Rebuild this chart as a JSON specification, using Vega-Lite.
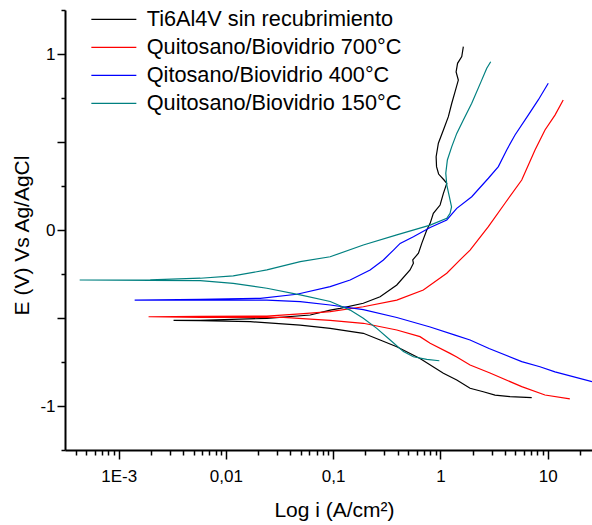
{
  "$schema": "https://vega.github.io/schema/vega-lite/v6.json",
  "width": 527,
  "height": 440,
  "autosize": {"type": "none"},
  "padding": {"left": 65, "top": 10, "right": 0, "bottom": 75},
  "background": "white",
  "config": {
    "view": {"stroke": null},
    "font": "Liberation Sans",
    "axis": {"grid": false, "domainColor": "black", "domainWidth": 2, "tickColor": "black", "tickWidth": 1.5, "labelColor": "black", "titleColor": "black", "labelFont": "Liberation Sans", "titleFont": "Liberation Sans", "labelFontSize": 17, "titleFontSize": 21, "titleFontWeight": "normal", "labelOverlap": false, "labelFlush": false}
  },
  "data": {"values": [
    {"s":"Ti6Al4V sin recubrimiento","o":1,"i":7.10,"E":-0.952},
    {"s":"Ti6Al4V sin recubrimiento","o":2,"i":4.45,"E":-0.947},
    {"s":"Ti6Al4V sin recubrimiento","o":3,"i":3.23,"E":-0.938},
    {"s":"Ti6Al4V sin recubrimiento","o":4,"i":2.51,"E":-0.919},
    {"s":"Ti6Al4V sin recubrimiento","o":5,"i":1.89,"E":-0.899},
    {"s":"Ti6Al4V sin recubrimiento","o":6,"i":1.42,"E":-0.852},
    {"s":"Ti6Al4V sin recubrimiento","o":7,"i":1.066,"E":-0.814},
    {"s":"Ti6Al4V sin recubrimiento","o":8,"i":0.645,"E":-0.730},
    {"s":"Ti6Al4V sin recubrimiento","o":9,"i":0.392,"E":-0.663},
    {"s":"Ti6Al4V sin recubrimiento","o":10,"i":0.274,"E":-0.625},
    {"s":"Ti6Al4V sin recubrimiento","o":11,"i":0.191,"E":-0.587},
    {"s":"Ti6Al4V sin recubrimiento","o":12,"i":0.116,"E":-0.568},
    {"s":"Ti6Al4V sin recubrimiento","o":13,"i":0.0938,"E":-0.559},
    {"s":"Ti6Al4V sin recubrimiento","o":14,"i":0.0493,"E":-0.540},
    {"s":"Ti6Al4V sin recubrimiento","o":15,"i":0.01687,"E":-0.521},
    {"s":"Ti6Al4V sin recubrimiento","o":16,"i":0.00577,"E":-0.515},
    {"s":"Ti6Al4V sin recubrimiento","o":17,"i":0.00325,"E":-0.513},
    {"s":"Ti6Al4V sin recubrimiento","o":18,"i":0.00577,"E":-0.513},
    {"s":"Ti6Al4V sin recubrimiento","o":19,"i":0.0241,"E":-0.502},
    {"s":"Ti6Al4V sin recubrimiento","o":20,"i":0.0611,"E":-0.483},
    {"s":"Ti6Al4V sin recubrimiento","o":21,"i":0.0938,"E":-0.455},
    {"s":"Ti6Al4V sin recubrimiento","o":22,"i":0.116,"E":-0.445},
    {"s":"Ti6Al4V sin recubrimiento","o":23,"i":0.191,"E":-0.416},
    {"s":"Ti6Al4V sin recubrimiento","o":24,"i":0.274,"E":-0.379},
    {"s":"Ti6Al4V sin recubrimiento","o":25,"i":0.392,"E":-0.3125},
    {"s":"Ti6Al4V sin recubrimiento","o":26,"i":0.521,"E":-0.227},
    {"s":"Ti6Al4V sin recubrimiento","o":27,"i":0.560,"E":-0.189},
    {"s":"Ti6Al4V sin recubrimiento","o":28,"i":0.552,"E":-0.170},
    {"s":"Ti6Al4V sin recubrimiento","o":29,"i":0.624,"E":-0.132},
    {"s":"Ti6Al4V sin recubrimiento","o":30,"i":0.670,"E":-0.076},
    {"s":"Ti6Al4V sin recubrimiento","o":31,"i":0.746,"E":0.000},
    {"s":"Ti6Al4V sin recubrimiento","o":32,"i":0.802,"E":0.038},
    {"s":"Ti6Al4V sin recubrimiento","o":33,"i":0.859,"E":0.095},
    {"s":"Ti6Al4V sin recubrimiento","o":34,"i":0.993,"E":0.142},
    {"s":"Ti6Al4V sin recubrimiento","o":35,"i":1.066,"E":0.2085},
    {"s":"Ti6Al4V sin recubrimiento","o":36,"i":1.146,"E":0.265},
    {"s":"Ti6Al4V sin recubrimiento","o":37,"i":1.081,"E":0.284},
    {"s":"Ti6Al4V sin recubrimiento","o":38,"i":0.962,"E":0.318},
    {"s":"Ti6Al4V sin recubrimiento","o":39,"i":0.920,"E":0.360},
    {"s":"Ti6Al4V sin recubrimiento","o":40,"i":0.912,"E":0.4165},
    {"s":"Ti6Al4V sin recubrimiento","o":41,"i":0.957,"E":0.493},
    {"s":"Ti6Al4V sin recubrimiento","o":42,"i":1.066,"E":0.568},
    {"s":"Ti6Al4V sin recubrimiento","o":43,"i":1.186,"E":0.644},
    {"s":"Ti6Al4V sin recubrimiento","o":44,"i":1.276,"E":0.720},
    {"s":"Ti6Al4V sin recubrimiento","o":45,"i":1.370,"E":0.786},
    {"s":"Ti6Al4V sin recubrimiento","o":46,"i":1.469,"E":0.852},
    {"s":"Ti6Al4V sin recubrimiento","o":47,"i":1.400,"E":0.898},
    {"s":"Ti6Al4V sin recubrimiento","o":48,"i":1.445,"E":0.947},
    {"s":"Ti6Al4V sin recubrimiento","o":49,"i":1.581,"E":0.985},
    {"s":"Ti6Al4V sin recubrimiento","o":50,"i":1.636,"E":1.042},

    {"s":"Quitosano/Biovidrio 700°C","o":1,"i":16.1,"E":-0.960},
    {"s":"Quitosano/Biovidrio 700°C","o":2,"i":9.44,"E":-0.9375},
    {"s":"Quitosano/Biovidrio 700°C","o":3,"i":5.73,"E":-0.890},
    {"s":"Quitosano/Biovidrio 700°C","o":4,"i":2.90,"E":-0.8125},
    {"s":"Quitosano/Biovidrio 700°C","o":5,"i":1.89,"E":-0.767},
    {"s":"Quitosano/Biovidrio 700°C","o":6,"i":1.42,"E":-0.722},
    {"s":"Quitosano/Biovidrio 700°C","o":7,"i":1.23,"E":-0.701},
    {"s":"Quitosano/Biovidrio 700°C","o":8,"i":0.802,"E":-0.644},
    {"s":"Quitosano/Biovidrio 700°C","o":9,"i":0.645,"E":-0.606},
    {"s":"Quitosano/Biovidrio 700°C","o":10,"i":0.392,"E":-0.568},
    {"s":"Quitosano/Biovidrio 700°C","o":11,"i":0.191,"E":-0.530},
    {"s":"Quitosano/Biovidrio 700°C","o":12,"i":0.0938,"E":-0.514},
    {"s":"Quitosano/Biovidrio 700°C","o":13,"i":0.0611,"E":-0.506},
    {"s":"Quitosano/Biovidrio 700°C","o":14,"i":0.0344,"E":-0.496},
    {"s":"Quitosano/Biovidrio 700°C","o":15,"i":0.00577,"E":-0.496},
    {"s":"Quitosano/Biovidrio 700°C","o":16,"i":0.00190,"E":-0.493},
    {"s":"Quitosano/Biovidrio 700°C","o":17,"i":0.00577,"E":-0.490},
    {"s":"Quitosano/Biovidrio 700°C","o":18,"i":0.0241,"E":-0.489},
    {"s":"Quitosano/Biovidrio 700°C","o":19,"i":0.0493,"E":-0.477},
    {"s":"Quitosano/Biovidrio 700°C","o":20,"i":0.0938,"E":-0.464},
    {"s":"Quitosano/Biovidrio 700°C","o":21,"i":0.191,"E":-0.436},
    {"s":"Quitosano/Biovidrio 700°C","o":22,"i":0.392,"E":-0.398},
    {"s":"Quitosano/Biovidrio 700°C","o":23,"i":0.693,"E":-0.341},
    {"s":"Quitosano/Biovidrio 700°C","o":24,"i":1.146,"E":-0.246},
    {"s":"Quitosano/Biovidrio 700°C","o":25,"i":1.524,"E":-0.170},
    {"s":"Quitosano/Biovidrio 700°C","o":26,"i":1.89,"E":-0.114},
    {"s":"Quitosano/Biovidrio 700°C","o":27,"i":2.80,"E":0.019},
    {"s":"Quitosano/Biovidrio 700°C","o":28,"i":4.00,"E":0.152},
    {"s":"Quitosano/Biovidrio 700°C","o":29,"i":5.73,"E":0.284},
    {"s":"Quitosano/Biovidrio 700°C","o":30,"i":7.62,"E":0.455},
    {"s":"Quitosano/Biovidrio 700°C","o":31,"i":9.44,"E":0.568},
    {"s":"Quitosano/Biovidrio 700°C","o":32,"i":11.7,"E":0.653},
    {"s":"Quitosano/Biovidrio 700°C","o":33,"i":13.96,"E":0.739},

    {"s":"Qitosano/Biovidrio 400°C","o":1,"i":25.9,"E":-0.862},
    {"s":"Qitosano/Biovidrio 400°C","o":2,"i":11.7,"E":-0.806},
    {"s":"Qitosano/Biovidrio 400°C","o":3,"i":8.47,"E":-0.777},
    {"s":"Qitosano/Biovidrio 400°C","o":4,"i":5.73,"E":-0.748},
    {"s":"Qitosano/Biovidrio 400°C","o":5,"i":2.84,"E":-0.673},
    {"s":"Qitosano/Biovidrio 400°C","o":6,"i":1.89,"E":-0.625},
    {"s":"Qitosano/Biovidrio 400°C","o":7,"i":1.37,"E":-0.597},
    {"s":"Qitosano/Biovidrio 400°C","o":8,"i":0.802,"E":-0.551},
    {"s":"Qitosano/Biovidrio 400°C","o":9,"i":0.392,"E":-0.497},
    {"s":"Qitosano/Biovidrio 400°C","o":10,"i":0.191,"E":-0.452},
    {"s":"Qitosano/Biovidrio 400°C","o":11,"i":0.0938,"E":-0.426},
    {"s":"Qitosano/Biovidrio 400°C","o":12,"i":0.0493,"E":-0.407},
    {"s":"Qitosano/Biovidrio 400°C","o":13,"i":0.0241,"E":-0.398},
    {"s":"Qitosano/Biovidrio 400°C","o":14,"i":0.00577,"E":-0.398},
    {"s":"Qitosano/Biovidrio 400°C","o":15,"i":0.00141,"E":-0.398},
    {"s":"Qitosano/Biovidrio 400°C","o":16,"i":0.00577,"E":-0.394},
    {"s":"Qitosano/Biovidrio 400°C","o":17,"i":0.0209,"E":-0.388},
    {"s":"Qitosano/Biovidrio 400°C","o":18,"i":0.0459,"E":-0.365},
    {"s":"Qitosano/Biovidrio 400°C","o":19,"i":0.0938,"E":-0.322},
    {"s":"Qitosano/Biovidrio 400°C","o":20,"i":0.144,"E":-0.284},
    {"s":"Qitosano/Biovidrio 400°C","o":21,"i":0.221,"E":-0.227},
    {"s":"Qitosano/Biovidrio 400°C","o":22,"i":0.294,"E":-0.170},
    {"s":"Qitosano/Biovidrio 400°C","o":23,"i":0.365,"E":-0.114},
    {"s":"Qitosano/Biovidrio 400°C","o":24,"i":0.421,"E":-0.076},
    {"s":"Qitosano/Biovidrio 400°C","o":25,"i":0.560,"E":-0.038},
    {"s":"Qitosano/Biovidrio 400°C","o":26,"i":0.802,"E":0.014},
    {"s":"Qitosano/Biovidrio 400°C","o":27,"i":1.146,"E":0.057},
    {"s":"Qitosano/Biovidrio 400°C","o":28,"i":1.42,"E":0.123},
    {"s":"Qitosano/Biovidrio 400°C","o":29,"i":1.959,"E":0.189},
    {"s":"Qitosano/Biovidrio 400°C","o":30,"i":2.80,"E":0.294},
    {"s":"Qitosano/Biovidrio 400°C","o":31,"i":3.47,"E":0.360},
    {"s":"Qitosano/Biovidrio 400°C","o":32,"i":4.15,"E":0.455},
    {"s":"Qitosano/Biovidrio 400°C","o":33,"i":4.96,"E":0.540},
    {"s":"Qitosano/Biovidrio 400°C","o":34,"i":6.59,"E":0.653},
    {"s":"Qitosano/Biovidrio 400°C","o":35,"i":8.17,"E":0.739},
    {"s":"Qitosano/Biovidrio 400°C","o":36,"i":10.13,"E":0.834},

    {"s":"Quitosano/Biovidrio 150°C","o":1,"i":0.977,"E":-0.743},
    {"s":"Quitosano/Biovidrio 150°C","o":2,"i":0.746,"E":-0.735},
    {"s":"Quitosano/Biovidrio 150°C","o":3,"i":0.560,"E":-0.720},
    {"s":"Quitosano/Biovidrio 150°C","o":4,"i":0.452,"E":-0.691},
    {"s":"Quitosano/Biovidrio 150°C","o":5,"i":0.340,"E":-0.625},
    {"s":"Quitosano/Biovidrio 150°C","o":6,"i":0.255,"E":-0.559},
    {"s":"Quitosano/Biovidrio 150°C","o":7,"i":0.191,"E":-0.502},
    {"s":"Quitosano/Biovidrio 150°C","o":8,"i":0.144,"E":-0.455},
    {"s":"Quitosano/Biovidrio 150°C","o":9,"i":0.116,"E":-0.430},
    {"s":"Quitosano/Biovidrio 150°C","o":10,"i":0.0938,"E":-0.406},
    {"s":"Quitosano/Biovidrio 150°C","o":11,"i":0.0493,"E":-0.369},
    {"s":"Quitosano/Biovidrio 150°C","o":12,"i":0.0241,"E":-0.331},
    {"s":"Quitosano/Biovidrio 150°C","o":13,"i":0.0117,"E":-0.303},
    {"s":"Quitosano/Biovidrio 150°C","o":14,"i":0.00577,"E":-0.288},
    {"s":"Quitosano/Biovidrio 150°C","o":15,"i":0.00197,"E":-0.286},
    {"s":"Quitosano/Biovidrio 150°C","o":16,"i":0.000433,"E":-0.284},
    {"s":"Quitosano/Biovidrio 150°C","o":17,"i":0.00197,"E":-0.283},
    {"s":"Quitosano/Biovidrio 150°C","o":18,"i":0.00577,"E":-0.274},
    {"s":"Quitosano/Biovidrio 150°C","o":19,"i":0.0117,"E":-0.261},
    {"s":"Quitosano/Biovidrio 150°C","o":20,"i":0.0241,"E":-0.227},
    {"s":"Quitosano/Biovidrio 150°C","o":21,"i":0.0493,"E":-0.180},
    {"s":"Quitosano/Biovidrio 150°C","o":22,"i":0.0938,"E":-0.152},
    {"s":"Quitosano/Biovidrio 150°C","o":23,"i":0.191,"E":-0.085},
    {"s":"Quitosano/Biovidrio 150°C","o":24,"i":0.392,"E":-0.028},
    {"s":"Quitosano/Biovidrio 150°C","o":25,"i":0.802,"E":0.028},
    {"s":"Quitosano/Biovidrio 150°C","o":26,"i":1.146,"E":0.066},
    {"s":"Quitosano/Biovidrio 150°C","o":27,"i":1.230,"E":0.095},
    {"s":"Quitosano/Biovidrio 150°C","o":28,"i":1.270,"E":0.131},
    {"s":"Quitosano/Biovidrio 150°C","o":29,"i":1.211,"E":0.189},
    {"s":"Quitosano/Biovidrio 150°C","o":30,"i":1.146,"E":0.256},
    {"s":"Quitosano/Biovidrio 150°C","o":31,"i":1.122,"E":0.323},
    {"s":"Quitosano/Biovidrio 150°C","o":32,"i":1.161,"E":0.398},
    {"s":"Quitosano/Biovidrio 150°C","o":33,"i":1.276,"E":0.474},
    {"s":"Quitosano/Biovidrio 150°C","o":34,"i":1.420,"E":0.549},
    {"s":"Quitosano/Biovidrio 150°C","o":35,"i":1.636,"E":0.625},
    {"s":"Quitosano/Biovidrio 150°C","o":36,"i":1.959,"E":0.720},
    {"s":"Quitosano/Biovidrio 150°C","o":37,"i":2.393,"E":0.843},
    {"s":"Quitosano/Biovidrio 150°C","o":38,"i":2.704,"E":0.919},
    {"s":"Quitosano/Biovidrio 150°C","o":39,"i":2.944,"E":0.956}
  ]},
  "mark": {"type": "line", "strokeWidth": 1.2, "clip": true, "interpolate": "linear"},
  "encoding": {
    "x": {
      "field": "i", "type": "quantitative",
      "scale": {"type": "log", "domain": [0.000316, 25.9], "nice": false},
      "axis": {
        "title": "Log i (A/cm²)",
        "values": [0.0004,0.0005,0.0006,0.0007,0.0008,0.0009,0.001,0.002,0.003,0.004,0.005,0.006,0.007,0.008,0.009,0.01,0.02,0.03,0.04,0.05,0.06,0.07,0.08,0.09,0.1,0.2,0.3,0.4,0.5,0.6,0.7,0.8,0.9,1,2,3,4,5,6,7,8,9,10,20],
        "labelExpr": "datum.value == 0.001 ? '1E-3' : datum.value == 0.01 ? '0,01' : datum.value == 0.1 ? '0,1' : datum.value == 1 ? '1' : datum.value == 10 ? '10' : ''",
        "tickSize": {"condition": {"test": "abs(log(datum.value)/LN10 - round(log(datum.value)/LN10)) < 0.000001", "value": 9}, "value": 5},
        "labelPadding": 9,
        "titleX": 269,
        "titleY": 60,
        "titleBaseline": "middle",
        "titleAlign": "center"
      }
    },
    "y": {
      "field": "E", "type": "quantitative",
      "scale": {"domain": [-1.25, 1.25], "nice": false, "zero": false},
      "axis": {
        "title": "E (V) Vs Ag/AgCl",
        "values": [-1.25,-1,-0.75,-0.5,-0.25,0,0.25,0.5,0.75,1,1.25],
        "labelExpr": "datum.value == 1 ? '1' : datum.value == 0 ? '0' : datum.value == -1 ? '-1' : ''",
        "tickSize": {"condition": {"test": "abs(datum.value*2 - round(datum.value*2)) < 0.000001", "value": 8}, "value": 4},
        "labelPadding": 2,
        "titleX": -43,
        "titleY": 225,
        "titleAngle": -90,
        "titleBaseline": "middle",
        "titleAlign": "center"
      }
    },
    "color": {
      "field": "s", "type": "nominal",
      "scale": {
        "domain": ["Ti6Al4V sin recubrimiento", "Quitosano/Biovidrio 700°C", "Qitosano/Biovidrio 400°C", "Quitosano/Biovidrio 150°C"],
        "range": ["#000000", "#FF0000", "#0000FF", "#008080"]
      },
      "legend": {
        "title": null,
        "orient": "none",
        "legendX": 38,
        "legendY": -1.5,
        "padding": 0,
        "symbolType": "M-5,0H5",
        "symbolSize": 81,
        "symbolStrokeWidth": 1.2,
        "labelFont": "Liberation Sans",
        "labelFontSize": 21.7,
        "labelColor": "black",
        "labelOffset": 22,
        "rowPadding": 5,
        "labelLimit": 400
      }
    },
    "order": {"field": "o", "type": "quantitative"}
  }
}
